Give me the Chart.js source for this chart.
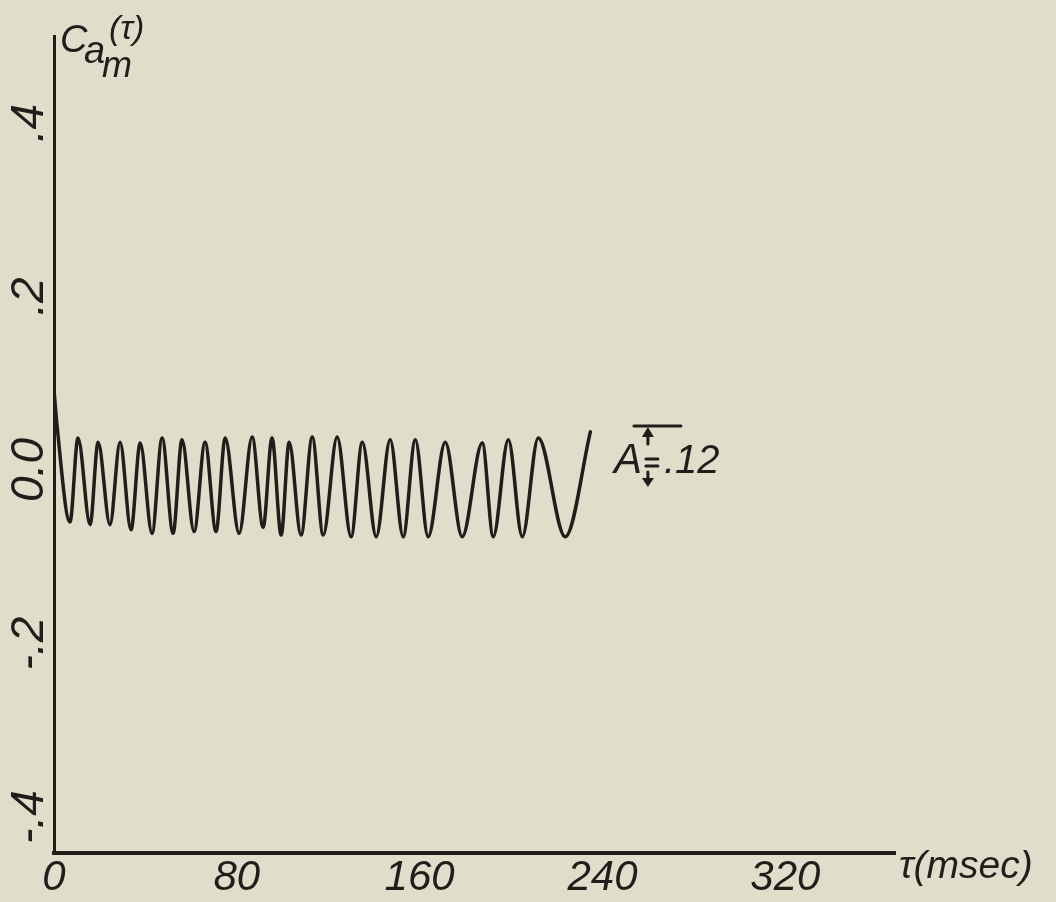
<!DOCTYPE html>
<html>
<head>
<meta charset="utf-8">
<script src="https://cdn.jsdelivr.net/npm/chart.js@4.4.1/dist/chart.umd.min.js"></script>
<style>
  html, body { margin: 0; padding: 0; background: #dedecb; }
  canvas { display: block; }
</style>
</head>
<body>
<canvas id="c" width="1056" height="902"></canvas>
<script>
// ---- data ----
const tauMs = [0, 1.3, 7.0, 10.5, 15.8, 19.3, 24.5, 28.9, 33.7, 37.7, 42.9, 47.3, 52.1, 56.0, 61.3,
  66.1, 70.9, 74.9, 81.0, 86.7, 91.5, 95.4, 99.4, 102.9, 108.1, 113.0, 117.8, 123.9, 130.0, 134.9,
  141.0, 147.1, 152.8, 158.1, 163.7, 171.2, 178.6, 187.4, 192.2, 198.8, 204.9, 211.9, 223.7, 234.7];
const corr = [0.092, 0.052, -0.060, 0.037, -0.063, 0.032, -0.063, 0.032, -0.069, 0.031, -0.073, 0.037,
  -0.073, 0.035, -0.071, 0.032, -0.071, 0.037, -0.073, 0.038, -0.066, 0.037, -0.075, 0.032, -0.075,
  0.038, -0.075, 0.038, -0.077, 0.032, -0.077, 0.035, -0.077, 0.035, -0.077, 0.032, -0.077, 0.031,
  -0.077, 0.035, -0.077, 0.037, -0.077, 0.044];
const xTickValues = [0, 80, 160, 240, 320];
const xTickLabels = ['0', '80', '160', '240', '320'];
const yTickValues = [-0.4, -0.2, 0, 0.2, 0.4];
const yTickLabels = ['-.4', '-.2', '0.0', '.2', '.4'];
const amplitudeLabel = '.12';

const INK = '#241c1a';
const FONT = "'Liberation Sans', 'DejaVu Sans', sans-serif";

const bgPlugin = {
  id: 'bg',
  beforeDraw(chart) {
    const ctx = chart.ctx;
    ctx.save();
    ctx.fillStyle = '#dedecb';
    ctx.fillRect(0, 0, chart.width, chart.height);
    ctx.restore();
  }
};

const annotPlugin = {
  id: 'annot',
  afterDraw(chart) {
    const { ctx, chartArea: a, scales: { x, y } } = chart;
    ctx.save();
    ctx.fillStyle = INK;
    ctx.strokeStyle = INK;
    ctx.textBaseline = 'alphabetic';
    ctx.textAlign = 'left';
    // y-axis title  C_a_m(τ)
    const L = a.left, T = a.top;
    ctx.font = `italic 38px ${FONT}`;
    ctx.fillText('C', L + 6, T + 16);
    ctx.font = `italic 38px ${FONT}`;
    ctx.fillText('a', L + 30, T + 27);
    ctx.font = `italic 36px ${FONT}`;
    ctx.fillText('m', L + 48, T + 41);
    ctx.font = `italic 34px ${FONT}`;
    ctx.fillText('(τ)', L + 55, T + 3);
    // x-axis title
    ctx.font = `italic 39px ${FONT}`;
    ctx.fillText('τ(msec)', a.right + 4, a.bottom + 25);
    // amplitude annotation
    const ax = x.getPixelForValue(245);
    const ay = y.getPixelForValue(0);
    ctx.font = `italic 42px ${FONT}`;
    ctx.fillText('A', ax, ay + 3);
    ctx.font = `italic 40px ${FONT}`;
    ctx.fillText(amplitudeLabel, ax + 50, ay + 3);
    ctx.lineWidth = 3;
    ctx.lineCap = 'round';
    const cx = ax + 34;
    ctx.beginPath();
    ctx.moveTo(ax + 20, ay - 44); ctx.lineTo(ax + 67, ay - 44);
    ctx.moveTo(cx, ay - 26); ctx.lineTo(cx, ay - 38);
    ctx.moveTo(ax + 32, ay - 11); ctx.lineTo(ax + 44, ay - 11);
    ctx.moveTo(ax + 32, ay - 4); ctx.lineTo(ax + 44, ay - 4);
    ctx.moveTo(cx, ay + 2); ctx.lineTo(cx, ay + 9);
    ctx.stroke();
    ctx.beginPath();
    ctx.moveTo(cx, ay - 43); ctx.lineTo(cx - 6, ay - 33); ctx.lineTo(cx + 6, ay - 33); ctx.closePath();
    ctx.moveTo(cx, ay + 17); ctx.lineTo(cx - 6, ay + 8); ctx.lineTo(cx + 6, ay + 8); ctx.closePath();
    ctx.fill();
    ctx.restore();
  }
};

new Chart(document.getElementById('c'), {
  type: 'line',
  data: {
    datasets: [{
      data: tauMs.map((t, i) => ({ x: t, y: corr[i] })),
      borderColor: INK,
      borderWidth: 3.5,
      pointRadius: 0,
      cubicInterpolationMode: 'monotone',
      borderCapStyle: 'round',
      borderJoinStyle: 'round',
      fill: false
    }]
  },
  options: {
    responsive: false,
    animation: false,
    devicePixelRatio: 1,
    layout: { padding: { top: 36, right: 161, bottom: 0, left: 0 } },
    plugins: { legend: { display: false }, tooltip: { enabled: false } },
    scales: {
      x: {
        type: 'linear',
        min: 0,
        max: 368,
        afterBuildTicks: s => { s.ticks = xTickValues.map(v => ({ value: v })); },
        afterFit: s => { s.height = 49; },
        grid: { display: false, drawTicks: false },
        border: { display: true, color: INK, width: 4 },
        ticks: {
          autoSkip: false, maxRotation: 0, minRotation: 0, padding: 0,
          color: INK,
          font: { family: FONT, size: 42, style: 'italic' },
          callback: (v, i) => xTickLabels[i]
        }
      },
      y: {
        type: 'linear',
        min: -0.4415,
        max: 0.5003,
        afterBuildTicks: s => { s.ticks = yTickValues.map(v => ({ value: v })); },
        afterFit: s => { s.width = 54; },
        grid: { display: false, drawTicks: false },
        border: { display: true, color: INK, width: 3 },
        ticks: {
          autoSkip: false, minRotation: 90, maxRotation: 90, crossAlign: 'center', padding: -8,
          color: INK,
          font: { family: FONT, size: 46, style: 'italic' },
          callback: (v, i) => yTickLabels[i]
        }
      }
    }
  },
  plugins: [bgPlugin, annotPlugin]
});
</script>
</body>
</html>
